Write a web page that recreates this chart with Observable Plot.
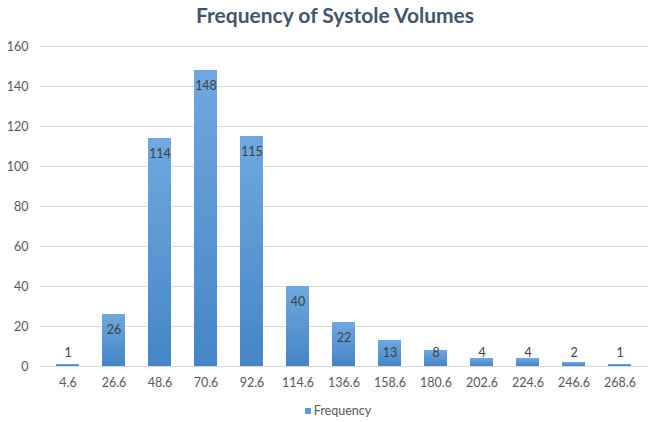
<!DOCTYPE html>
<html>
<head>
<meta charset="utf-8">
<script src="https://cdn.jsdelivr.net/npm/d3@7"></script>
<script src="https://cdn.jsdelivr.net/npm/@observablehq/plot@0.6"></script>
<style>
  html, body { margin: 0; padding: 0; background: #ffffff; }
  #chart { position: relative; width: 649px; height: 422px; font-family: Lato, "Open Sans", sans-serif; }
  #title { position: absolute; left: 0; width: 670px; top: 2px; text-align: center;
           font-size: 21px; font-weight: bold; color: #44546a; }
  #legend { position: absolute; left: 0; width: 676px; top: 403px; text-align: center;
            font-size: 12.5px; color: #595959; }
  #legend .swatch { display: inline-block; width: 6px; height: 6px; background: #5b9bd5;
                    margin-right: 3px; vertical-align: 1px; }
  #plot { position: absolute; left: 0; top: 0; }
</style>
</head>
<body>
<div id="chart">
  <div id="plot"></div>
  <div id="title">Frequency of Systole Volumes</div>
  <div id="legend"><span class="swatch"></span>Frequency</div>
</div>
<script>
// Systole volume bins (bin labels) and their counts
const bins = ["4.6", "26.6", "48.6", "70.6", "92.6", "114.6", "136.6", "158.6", "180.6", "202.6", "224.6", "246.6", "268.6"];
const frequency = [1, 26, 114, 148, 115, 40, 22, 13, 8, 4, 4, 2, 1];
const yTicks = [0, 20, 40, 60, 80, 100, 120, 140, 160];

const data = bins.map((b, i) => ({bin: b, freq: frequency[i]}));

// Vertical gradient shared by every bar (per-bar bounding box)
const gradientDefs = () => {
  const svg = d3.create("svg:defs");
  const g = svg.append("linearGradient")
    .attr("id", "barGrad").attr("x1", 0).attr("y1", 0).attr("x2", 0).attr("y2", 1);
  g.append("stop").attr("offset", "0%").attr("stop-color", "#70a8e0");
  g.append("stop").attr("offset", "100%").attr("stop-color", "#4585c6");
  return svg.node();
};

const chart = Plot.plot({
  width: 649,
  height: 422,
  marginTop: 46,
  marginBottom: 56,
  marginLeft: 40,
  marginRight: 1,
  style: {fontFamily: "Lato, 'Open Sans', sans-serif", fontSize: "12.5px", color: "#595959", background: "transparent"},
  x: {domain: bins, paddingInner: 0.49, paddingOuter: 0.245, label: null},
  y: {domain: [0, 160], label: null},
  marks: [
    gradientDefs,
    Plot.ruleY(yTicks, {stroke: "#d9d9d9", strokeWidth: 1}),
    Plot.barY(data, {x: "bin", y: "freq", fill: "url(#barGrad)"}),
    Plot.axisY({ticks: yTicks, tickSize: 0, tickPadding: 12, fill: "#595959", fontSize: 12.5}),
    Plot.axisX({tickSize: 0, tickPadding: 12, fill: "#595959", fontSize: 12.5}),
    // value labels sit just inside the top of each bar, kept clear of the baseline for short bars
    Plot.text(data, {
      x: "bin",
      y: d => Math.max(d.freq - 7.5, 7),
      text: d => String(d.freq),
      fill: "#404040",
      fontSize: 12.5
    })
  ]
});

document.getElementById("plot").appendChild(chart);
</script>
</body>
</html>
